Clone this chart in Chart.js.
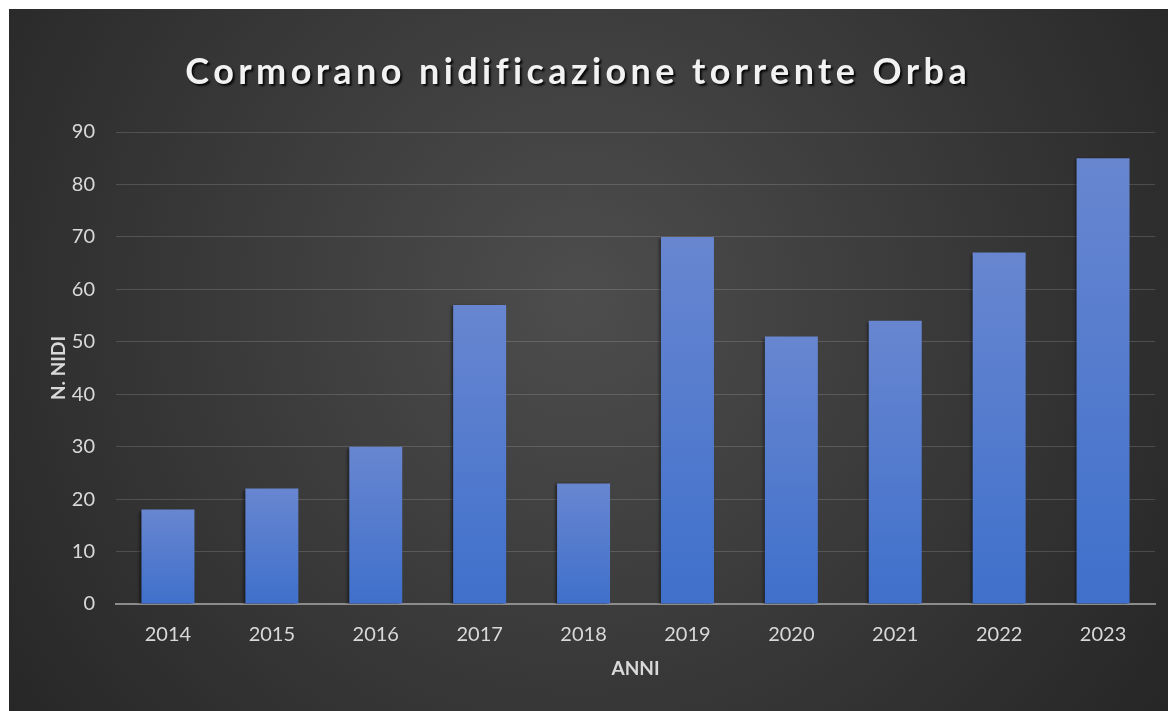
<!DOCTYPE html>
<html>
<head>
<meta charset="utf-8">
<script src="https://cdn.jsdelivr.net/npm/chart.js@4/dist/chart.umd.min.js"></script>
<style>
  html, body { margin: 0; padding: 0; background: #fff; overflow: hidden; }
  #wrap { position: absolute; left: 9px; top: 9px; width: 1159px; height: 702px; }
</style>
</head>
<body>
<div id="wrap"><canvas id="barChart"></canvas></div>
<script>
const titleText = "Cormorano nidificazione torrente Orba";
const years = ["2014", "2015", "2016", "2017", "2018", "2019", "2020", "2021", "2022", "2023"];
const nests = [18, 22, 30, 57, 23, 70, 51, 54, 67, 85];
const yMax = 90;
const yStep = 10;

const textColor = "#d9d9d9";

// dark radial background, like the office chart style
const backgroundPlugin = {
  id: "bg",
  beforeDraw(chart) {
    const { ctx, width, height } = chart;
    const g = ctx.createRadialGradient(570, 290, 0, 570, 290, 720);
    g.addColorStop(0, "#4d4d4d");
    g.addColorStop(1, "#262626");
    ctx.save();
    ctx.fillStyle = g;
    ctx.fillRect(0, 0, width, height);
    ctx.restore();
  },
};

// spaced-out title with drop shadow
const titlePlugin = {
  id: "bigTitle",
  afterDraw(chart) {
    const ctx = chart.ctx;
    ctx.save();
    ctx.font = "bold 36px Lato";
    const w = ctx.measureText(titleText).width;
    const spacing = (781 - w) / (titleText.length - 1);
    ctx.letterSpacing = spacing + "px";
    ctx.textAlign = "center";
    ctx.textBaseline = "middle";
    ctx.shadowColor = "rgba(0,0,0,0.85)";
    ctx.shadowOffsetX = 2;
    ctx.shadowOffsetY = 2;
    ctx.shadowBlur = 2;
    ctx.fillStyle = "#f2f2f2";
    ctx.fillText(titleText, 567 + spacing / 2, 63);
    ctx.restore();
  },
};

const shadowPlugin = {
  id: "barShadow",
  beforeDatasetsDraw(chart) {
    const ctx = chart.ctx;
    ctx.save();
    ctx.shadowColor = "rgba(0,0,0,0.55)";
    ctx.shadowOffsetX = -2;
    ctx.shadowOffsetY = 1;
    ctx.shadowBlur = 3;
  },
  afterDatasetsDraw(chart) {
    chart.ctx.restore();
  },
};

function barGradient(context) {
  const chart = context.chart;
  const y = chart.scales.y;
  if (!y || context.raw === undefined) return "#4472c4";
  const top = y.getPixelForValue(context.raw);
  const bottom = y.getPixelForValue(0);
  if (!isFinite(top) || !isFinite(bottom) || top === bottom) return "#4472c4";
  const g = chart.ctx.createLinearGradient(0, top, 0, bottom);
  g.addColorStop(0, "#6886d0");
  g.addColorStop(1, "#3f70cb");
  return g;
}

const ctx = document.getElementById("barChart").getContext("2d");

const config = {
  type: "bar",
  data: {
    labels: years,
    datasets: [
      {
        label: "N. NIDI",
        data: nests,
        backgroundColor: barGradient,
        borderWidth: 0,
        categoryPercentage: 1,
        barPercentage: 0.51,
      },
    ],
  },
  options: {
    responsive: true,
    maintainAspectRatio: false,
    animation: false,
    layout: {
      padding: { top: 123, right: 13, bottom: 0, left: 30 },
    },
    plugins: {
      legend: { display: false },
      tooltip: { enabled: false },
      title: { display: false },
    },
    scales: {
      x: {
        afterFit(scale) {
          scale.height = 107;
        },
        grid: { display: false },
        border: { display: true, color: "#8c8c8c", width: 2 },
        ticks: {
          color: textColor,
          font: { family: "Lato", size: 20 },
          padding: 11,
        },
        title: {
          display: true,
          text: "ANNI",
          color: textColor,
          font: { family: "Lato", size: 19, weight: "bold" },
          padding: { top: 10, bottom: 31 },
        },
      },
      y: {
        afterFit(scale) {
          scale.width = 77;
        },
        min: 0,
        max: yMax,
        ticks: {
          stepSize: yStep,
          color: textColor,
          font: { family: "Lato", size: 20 },
          padding: 21,
        },
        grid: {
          color: "rgba(255,255,255,0.15)",
          lineWidth: 1,
          drawTicks: false,
        },
        border: { display: false },
        title: {
          display: true,
          text: "N. NIDI",
          color: textColor,
          font: { family: "Lato", size: 19, weight: "bold" },
          padding: { top: 8, bottom: 2 },
        },
      },
    },
  },
  plugins: [backgroundPlugin, shadowPlugin, titlePlugin],
};

const myChart = new Chart(ctx, config);
</script>
</body>
</html>
